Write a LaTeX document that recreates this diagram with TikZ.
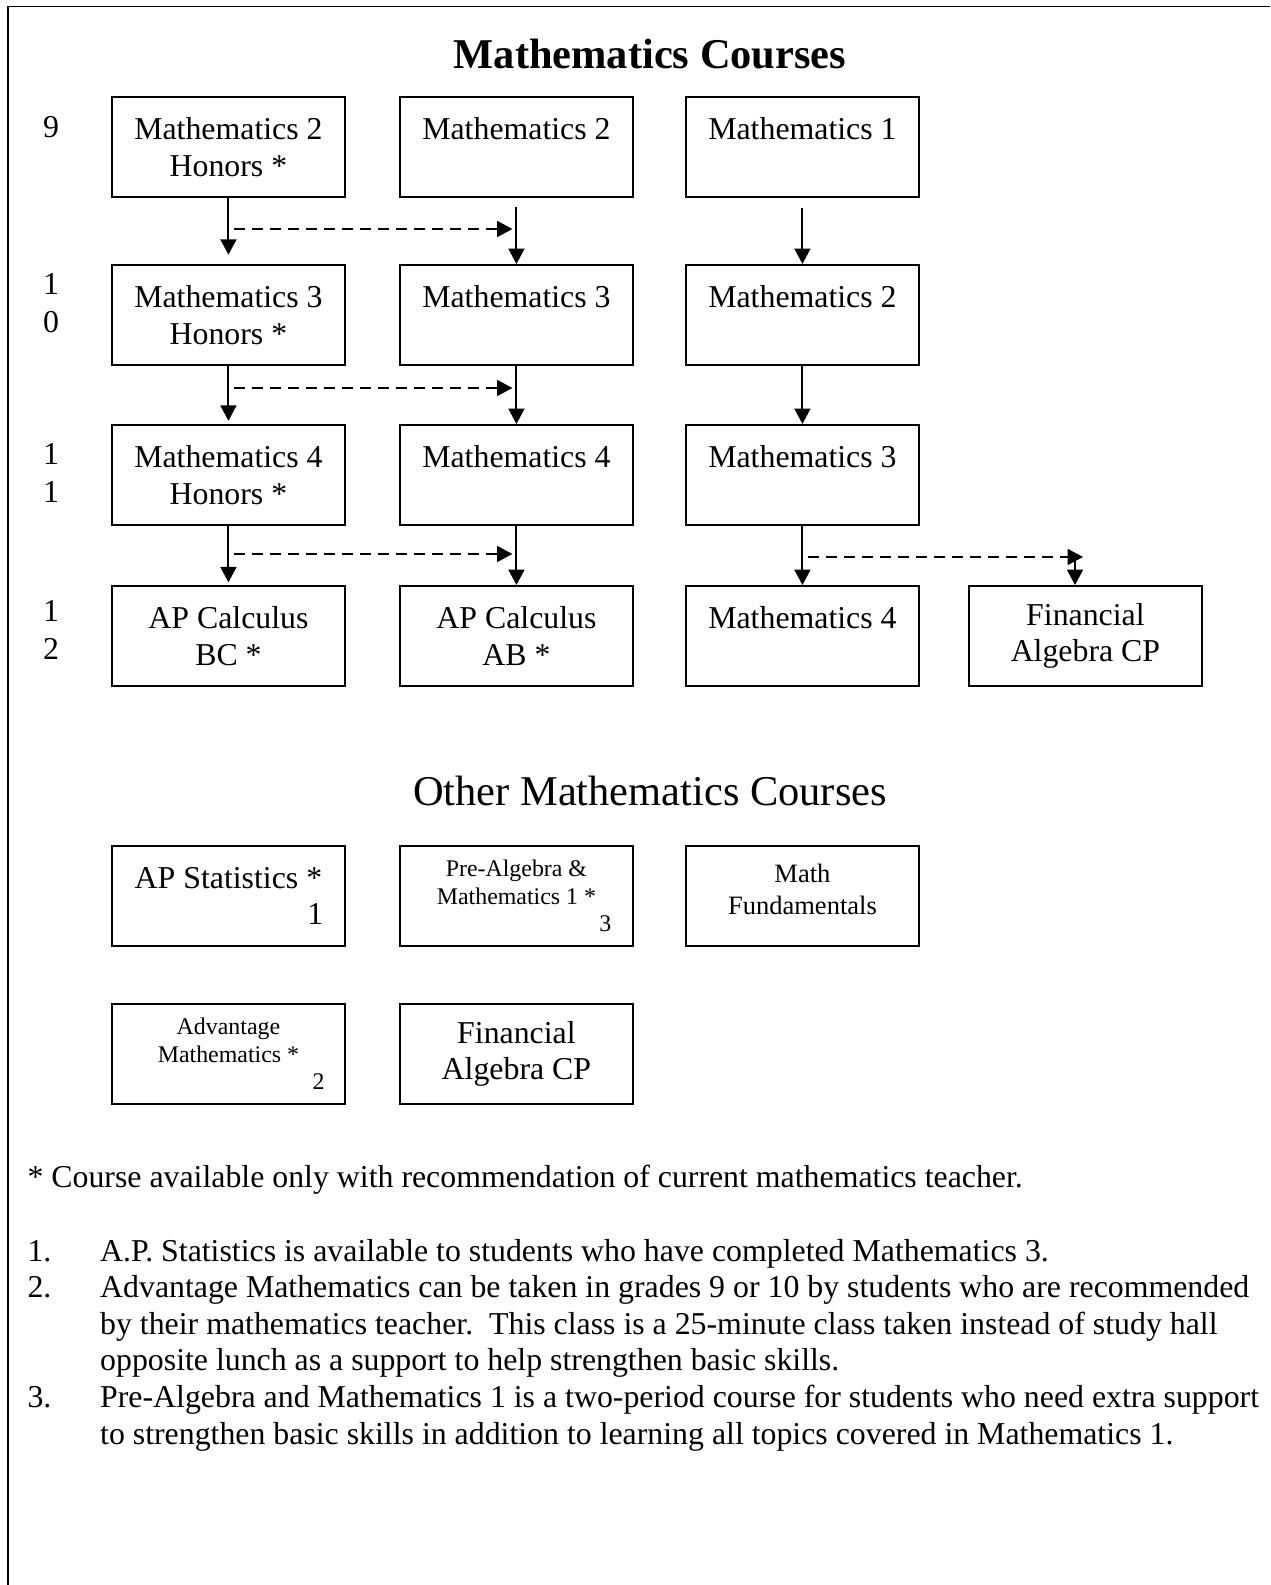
\documentclass[tikz,border=0pt]{standalone}
\usepackage{fontspec}
\setmainfont{Liberation Serif}
\usetikzlibrary{arrows.meta}
\tikzset{
course/.style={draw,line width=.75pt,minimum width=87.8pt,minimum height=37.7pt,inner sep=0pt,align=center,font=\fontsize{12}{13.8}\selectfont,anchor=north west},
smallcourse/.style={course,font=\fontsize{9}{10.35}\selectfont},
grade/.style={align=center,inner sep=0pt,font=\fontsize{12}{14.5}\selectfont},
heading/.style={anchor=base,inner sep=0pt,font=\fontsize{16}{18.4}\selectfont},
note/.style={anchor=base west,inner sep=0pt,font=\fontsize{12}{13.8}\selectfont},
flow/.style={-{Triangle[length=5.8pt,width=6pt]},line width=.75pt},
dashflow/.style={flow,dash pattern=on 4.2pt off 2.6pt}
}
\begin{document}
\begin{tikzpicture}[x=0.377pt,y=-0.377pt]
\useasboundingbox (0,0) rectangle (1270,1585);
\draw[line width=.75pt] (8,1585) -- (8,6.5) -- (1270,6.5);
\node[heading,font=\bfseries\fontsize{16}{18.4}\selectfont] (title) at (650,69) {Mathematics Courses};
% grade numbers
\node[grade] (g9) at (51,127) {9};
\node[grade] (g10) at (51,303) {1\\0};
\node[grade] (g11) at (51,473) {1\\1};
\node[grade] (g12) at (51,630) {1\\2};
% course sequence
\node[course] (hon9) at (111,96) {Mathematics 2\\Honors *};
\node[course] (reg9) at (399,96) {Mathematics 2\\\mbox{}};
\node[course] (std9) at (685,96) {Mathematics 1\\\mbox{}};
\node[course] (hon10) at (111,264) {Mathematics 3\\Honors *};
\node[course] (reg10) at (399,264) {Mathematics 3\\\mbox{}};
\node[course] (std10) at (685,264) {Mathematics 2\\\mbox{}};
\node[course] (hon11) at (111,424) {Mathematics 4\\Honors *};
\node[course] (reg11) at (399,424) {Mathematics 4\\\mbox{}};
\node[course] (std11) at (685,424) {Mathematics 3\\\mbox{}};
\node[course] (calcbc) at (111,585) {AP Calculus\\BC *};
\node[course] (calcab) at (399,585) {AP Calculus\\AB *};
\node[course] (std12) at (685,585) {Mathematics 4\\\mbox{}};
\node[course] (finalg) at (968,585) {Financial\\Algebra CP};
\draw[flow,shorten >=3.5pt] (hon9) -- (hon10);
\draw[flow,shorten <=3.4pt] (reg9) -- (reg10);
\draw[flow,shorten <=3.8pt] (std9) -- (std10);
\draw[flow,shorten >=1.2pt] (hon10) -- (hon11);
\draw[flow] (reg10) -- (reg11);
\draw[flow] (std10) -- (std11);
\draw[flow,shorten >=1pt] (hon11) -- (calcbc);
\draw[flow] (reg11) -- (calcab);
\draw[flow] (std11) -- (std12);
% optional moves
\coordinate (d9) at (hon9.south |- 0,229);
\coordinate (e9) at (reg9.south |- 0,229);
\coordinate (d10) at (hon10.south |- 0,388);
\coordinate (e10) at (reg10.south |- 0,388);
\coordinate (d11) at (hon11.south |- 0,554);
\coordinate (e11) at (reg11.south |- 0,554);
\coordinate (s11) at (std11.south |- 0,557);
\coordinate (f11) at (1083,557);
\coordinate (k11) at (1075,557);
\draw[dashflow,shorten <=2pt,shorten >=1.5pt] (d9) -- (e9);
\draw[dashflow,shorten <=2pt,shorten >=1.5pt] (d10) -- (e10);
\draw[dashflow,shorten <=2pt,shorten >=1.5pt] (d11) -- (e11);
\draw[dashflow,shorten <=2pt] (s11) -- (f11);
\draw[flow] (k11) -- (k11 |- finalg.north);
% other courses
\node[heading] (other) at (650,805) {Other Mathematics Courses};
\node[course] (apstat) at (111,845) {AP Statistics *\\\hspace*{65.6pt}1};
\node[smallcourse] (prealg) at (399,845) {Pre-Algebra \&\\Mathematics 1 *\\\hspace*{67pt}3};
\node[course,font=\fontsize{10}{12.2}\selectfont] (mathfund) at (685,845) {Math\\Fundamentals\\[-7pt]\mbox{}};
\node[smallcourse] (advmath) at (111,1003) {Advantage\\Mathematics *\\\hspace*{68pt}2};
\node[course] (finalg2) at (399,1003) {Financial\\Algebra CP};
% notes
\node[note] (star) at (27,1187) {* Course available only with recommendation of current mathematics teacher.};
\node[note] (list) at (27,1261) {\begin{tabular}[t]{@{}p{27.4pt}@{}l@{}}
1. & A.P. Statistics is available to students who have completed Mathematics 3.\\
2. & Advantage Mathematics can be taken in grades 9 or 10 by students who are recommended\\
 & by their mathematics teacher.\ \ This class is a 25-minute class taken instead of study hall\\
 & opposite lunch as a support to help strengthen basic skills.\\
3. & Pre-Algebra and Mathematics 1 is a two-period course for students who need extra support\\
 & to strengthen basic skills in addition to learning all topics covered in Mathematics 1.
\end{tabular}};
\end{tikzpicture}
\end{document}
